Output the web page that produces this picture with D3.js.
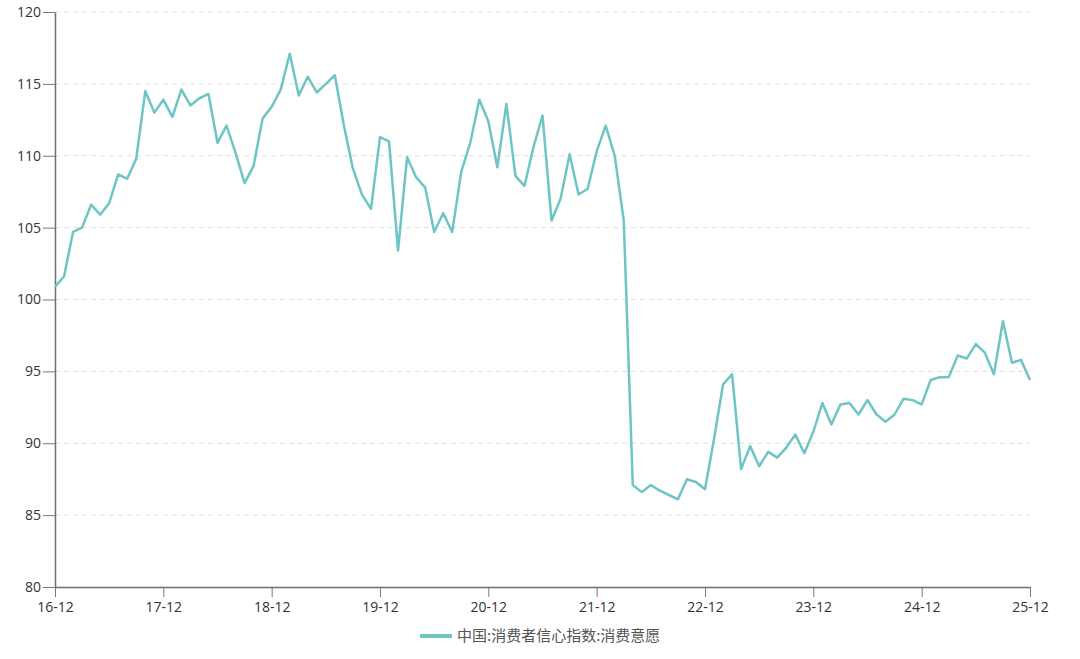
<!DOCTYPE html>
<html>
<head>
<meta charset="utf-8">
<script src="https://cdn.jsdelivr.net/npm/d3@7"></script>
<style>
  body { margin: 0; background: #fff; }
  svg text { font-family: "Open Sans", "Noto Sans CJK SC", sans-serif; }
</style>
</head>
<body>
<div id="chart"></div>
<script>
var width = 1080;
var height = 659;
var padding = { left: 55, right: 50, top: 12, bottom: 72 };

var seriesName = "中国:消费者信心指数:消费意愿";
var startYear = 2016, startMonth = 12;
var values = [100.9, 101.6, 104.7, 105.0, 106.6, 105.9, 106.7, 108.7, 108.4, 109.8, 114.5, 113.0,
    113.9, 112.7, 114.6, 113.5, 114.0, 114.3, 110.9, 112.1, 110.2, 108.1, 109.3, 112.6,
    113.4, 114.6, 117.1, 114.2, 115.5, 114.4, 115.0, 115.6, 112.1, 109.1, 107.3, 106.3,
    111.3, 111.0, 103.4, 109.9, 108.5, 107.8, 104.7, 106.0, 104.7, 108.9, 110.9, 113.9,
    112.4, 109.2, 113.6, 108.6, 107.9, 110.6, 112.8, 105.5, 107.0, 110.1, 107.3, 107.7,
    110.3, 112.1, 110.0, 105.5, 87.1, 86.6, 87.1, 86.7, 86.4, 86.1, 87.5, 87.3,
    86.8, 90.3, 94.1, 94.8, 88.2, 89.8, 88.4, 89.4, 89.0, 89.7, 90.6, 89.3,
    90.8, 92.8, 91.3, 92.7, 92.8, 92.0, 93.0, 92.0, 91.5, 92.0, 93.1, 93.0,
    92.7, 94.4, 94.6, 94.6, 96.1, 95.9, 96.9, 96.3, 94.8, 98.5, 95.6, 95.8,
    94.4];
var yTicks = [80, 85, 90, 95, 100, 105, 110, 115, 120];

// month labels like "16-12", "17-01", ...
var months = values.map(function (v, i) {
    var m = startMonth - 1 + i;
    var y = startYear + Math.floor(m / 12);
    var mm = (m % 12) + 1;
    return String(y % 100) + "-" + (mm < 10 ? "0" + mm : mm);
});
var xTickLabels = months.filter(function (d, i) { return i % 12 === 0; });

var svg = d3.select("#chart")
    .append("svg")
    .attr("width", width)
    .attr("height", height);

var x = d3.scalePoint()
    .domain(months)
    .range([padding.left, width - padding.right]);

var y = d3.scaleLinear()
    .domain([80, 120])
    .range([height - padding.bottom, padding.top]);

// grid
svg.append("g")
    .selectAll("line")
    .data(yTicks.slice(1))
    .enter()
    .append("line")
    .attr("x1", padding.left)
    .attr("x2", width - padding.right)
    .attr("y1", function (d) { return y(d); })
    .attr("y2", function (d) { return y(d); })
    .attr("stroke", "#dedede")
    .attr("stroke-width", 1)
    .attr("stroke-dasharray", "5,4");

var xAxis = svg.append("g")
    .attr("transform", "translate(0," + (height - padding.bottom) + ")")
    .call(d3.axisBottom(x).tickValues(xTickLabels).tickSize(10).tickPadding(5).tickSizeOuter(0));

var yAxis = svg.append("g")
    .attr("transform", "translate(" + padding.left + ",0)")
    .call(d3.axisLeft(y).tickValues(yTicks).tickSize(12).tickPadding(2).tickSizeOuter(0));

[xAxis, yAxis].forEach(function (a) {
    a.select(".domain").attr("stroke", "#6e6e6e").attr("stroke-width", 1.5);
    a.selectAll(".tick line").attr("stroke", "#777").attr("stroke-width", 1);
    a.selectAll(".tick text").attr("fill", "#333").attr("font-size", "14px");
});

var line = d3.line()
    .x(function (d, i) { return x(months[i]); })
    .y(function (d) { return y(d); });

svg.append("path")
    .datum(values)
    .attr("fill", "none")
    .attr("stroke", "#6ec6c4")
    .attr("stroke-width", 2.5)
    .attr("stroke-linejoin", "round")
    .attr("d", line);

// legend
var legend = svg.append("g")
    .attr("transform", "translate(420,636)");
legend.append("line")
    .attr("x1", 0)
    .attr("x2", 32)
    .attr("stroke", "#6ec6c4")
    .attr("stroke-width", 4);
legend.append("text")
    .attr("x", 37)
    .attr("y", 5)
    .attr("font-size", "15px")
    .attr("fill", "#555")
    .style("font-family", "'Noto Sans CJK SC', sans-serif")
    .text(seriesName);
</script>
</body>
</html>
